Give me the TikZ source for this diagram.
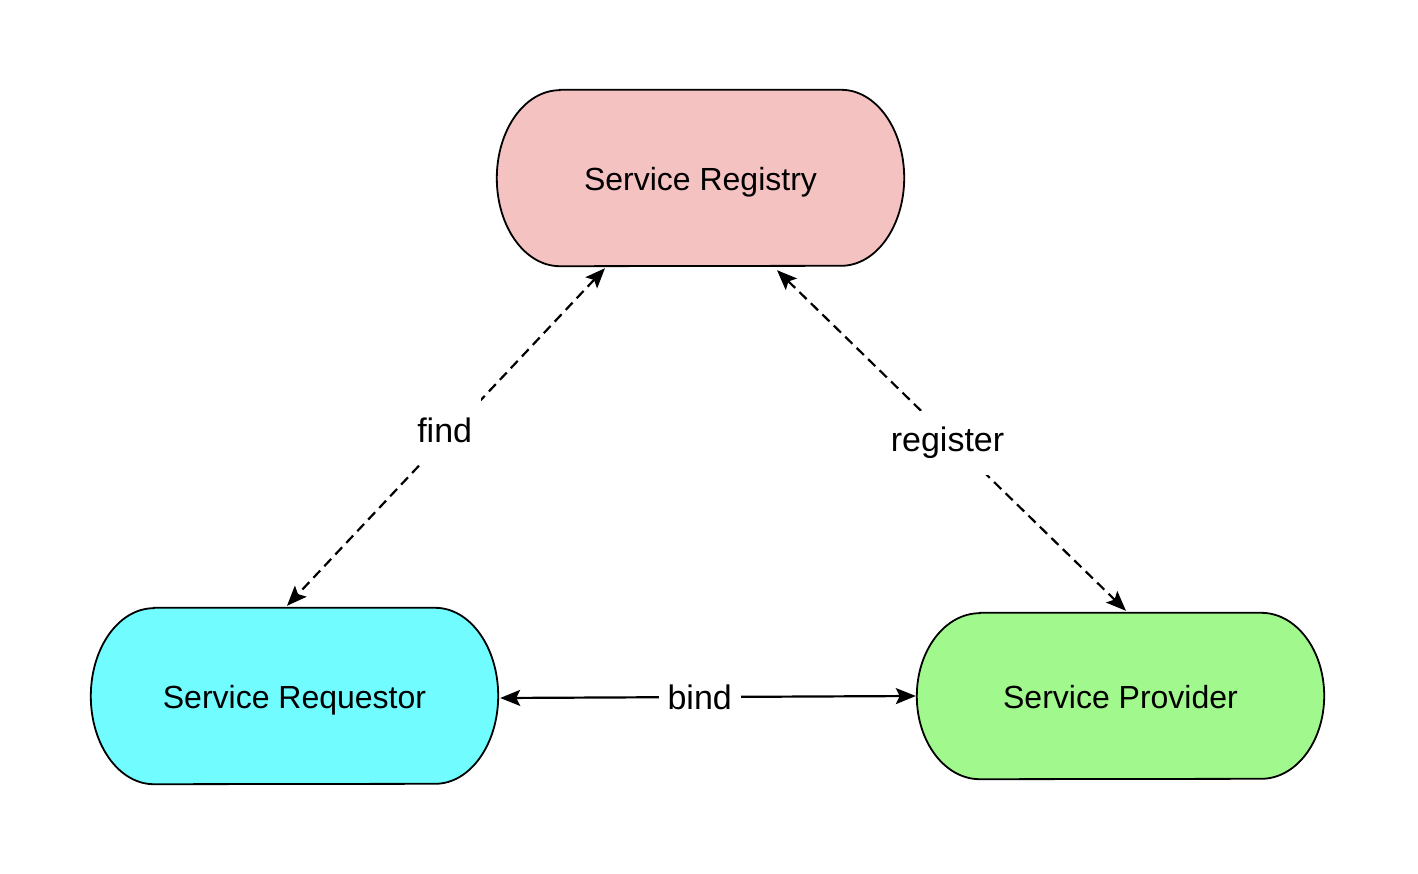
\documentclass[tikz,border=0pt]{standalone}
\usepackage{fontspec}
\setmainfont{Liberation Sans}
\usetikzlibrary{arrows.meta}

\definecolor{regfill}{HTML}{F5C2C2}
\definecolor{reqfill}{HTML}{71FDFF}
\definecolor{provfill}{HTML}{A1F98D}

% stadium outline around a named node: #1 node, #2 fill colour, #3 end radius x, #4 half height
\newcommand\stadiumshape[4]{%
  \filldraw[fill=#2, line width=1.8pt]
    ([xshift=#3]#1.north west) -- ([xshift=-#3]#1.north east)
    arc[start angle=90, end angle=-90, x radius=#3, y radius=#4]
    -- ([xshift=#3]#1.south west)
    arc[start angle=270, end angle=90, x radius=#3, y radius=#4] -- cycle;
}

\tikzset{
  service/.style={draw=none, inner sep=0pt, font=\fontsize{32}{38}\selectfont},
  lbl/.style={fill=white, inner xsep=9pt, inner ysep=0pt, minimum height=64pt,
              font=\fontsize{34}{40}\selectfont},
  arrowtip/.style={Stealth[length=20pt,width=16pt,inset=4pt]},
  link/.style={line width=2.2pt, dash pattern=on 10pt off 6pt,
               {Stealth[length=20pt,width=16pt,inset=4pt]}-{Stealth[length=20pt,width=16pt,inset=4pt]}},
  solidlink/.style={line width=2.2pt,
               {Stealth[length=20pt,width=16pt,inset=4pt]}-{Stealth[length=20pt,width=16pt,inset=4pt]}}
}

\begin{document}
\begin{tikzpicture}[x=1pt, y=-1pt]
  \useasboundingbox (0,0) rectangle (1418,874);

  % service boxes
  \node[service, minimum width=407pt, minimum height=176pt] (reg)  at (700.5,178) {};
  \node[service, minimum width=407pt, minimum height=176pt] (req)  at (294.5,696) {};
  \node[service, minimum width=407pt, minimum height=166pt] (prov) at (1120.5,696) {};

  \stadiumshape{reg}{regfill}{63pt}{88pt}
  \stadiumshape{req}{reqfill}{63pt}{88pt}
  \stadiumshape{prov}{provfill}{63pt}{83pt}

  \node[service, yshift=-4pt] at (reg)  {Service Registry};
  \node[service, yshift=-4pt] at (req)  {Service Requestor};
  \node[service, yshift=-1pt] at (prov) {Service Provider};

  % connectors
  \draw[link] ([xshift=-95.5pt, yshift=-2pt]reg.south) --
     node[lbl, pos=0.479, xshift=-8pt] (findlbl) {find} ([xshift=-7.5pt, yshift=2pt]req.north);
  \draw[link] ([xshift=76.5pt, yshift=-4pt]reg.south) --
     node[lbl, pos=0.5, xshift=-4pt, yshift=-2pt] (reglbl) {register} ([xshift=5.5pt, yshift=2pt]prov.north);
  \draw[solidlink] ([xshift=2pt, yshift=-2pt]req.east) --
     node[lbl, pos=0.48] (bindlbl) {bind} ([xshift=-1pt]prov.west);
\end{tikzpicture}
\end{document}
